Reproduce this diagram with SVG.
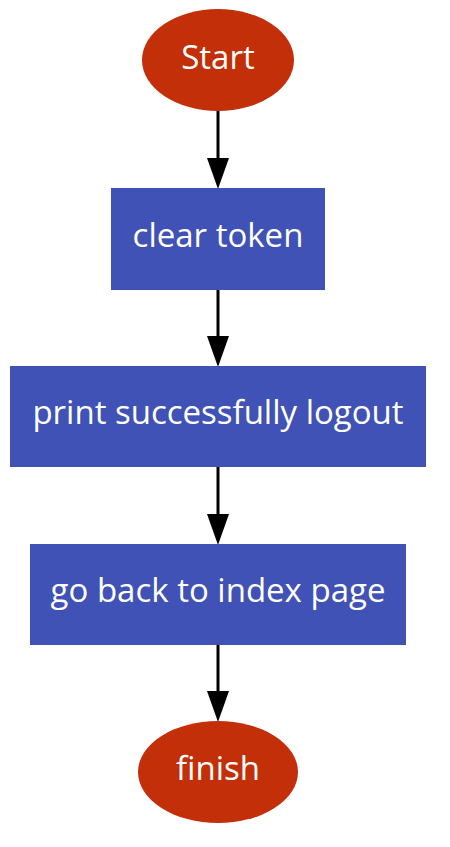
<svg xmlns="http://www.w3.org/2000/svg" width="450" height="847" viewBox="0 0 450 847">
<style>
.term{fill:#c22f08}
.proc{fill:#4052b5}
.lbl{font-family:"Open Sans","Noto Sans",sans-serif;font-size:33px;fill:#ffffff;text-anchor:middle;dominant-baseline:central}
.edge{stroke:#000;stroke-width:3;fill:none}
.head{fill:#000}
</style>
<rect width="450" height="847" fill="#fff"/>
<g id="connectors">
<line class="edge" x1="218" y1="111" x2="218" y2="160"/>
<polygon class="head" points="207,158 229,158 218,189"/>
<line class="edge" x1="218" y1="290" x2="218" y2="338"/>
<polygon class="head" points="207,336 229,336 218,367"/>
<line class="edge" x1="218" y1="467" x2="218" y2="516"/>
<polygon class="head" points="207,514 229,514 218,545"/>
<line class="edge" x1="218" y1="645" x2="218" y2="693"/>
<polygon class="head" points="207,691 229,691 218,722"/>
</g>
<g id="start">
<ellipse class="term" cx="218" cy="60" rx="76" ry="51"/>
<text class="lbl" x="218" y="56">Start</text>
</g>
<g id="clear-token">
<rect class="proc" x="111" y="188" width="214" height="102"/>
<text class="lbl" x="218" y="234">clear token</text>
</g>
<g id="print-logout">
<rect class="proc" x="10" y="366" width="416" height="101"/>
<text class="lbl" x="218" y="411">print successfully logout</text>
</g>
<g id="go-back">
<rect class="proc" x="30" y="544" width="376" height="101"/>
<text class="lbl" x="218" y="589">go back to index page</text>
</g>
<g id="finish">
<ellipse class="term" cx="218" cy="772" rx="80" ry="51"/>
<text class="lbl" x="218" y="767">finish</text>
</g>
</svg>
